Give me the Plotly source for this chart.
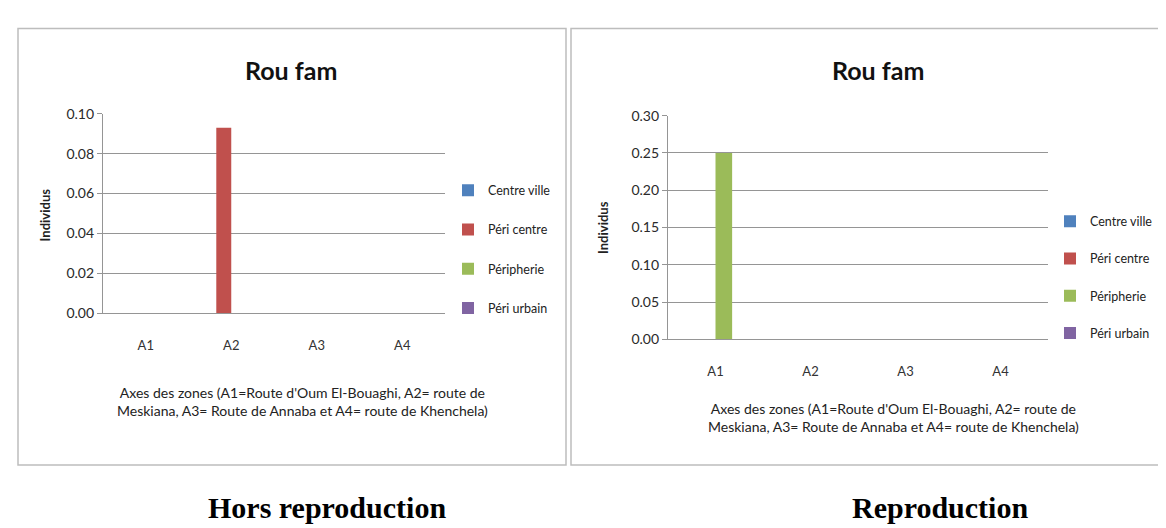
import plotly.graph_objects as go

W, H = 1166, 528

# Données
zones = ["A1", "A2", "A3", "A4"]
series = ["Centre ville", "Péri centre", "Péripherie", "Péri urbain"]
couleurs = ["#4F81BD", "#C0504D", "#9BBB59", "#8064A2"]

# Hors reproduction (valeurs par série, zones A1..A4)
hors_centre_ville = [0, 0, 0, 0]
hors_peri_centre = [0, 0.093, 0, 0]
hors_peripherie = [0, 0, 0, 0]
hors_peri_urbain = [0, 0, 0, 0]

# Reproduction
repro_centre_ville = [0, 0, 0, 0]
repro_peri_centre = [0, 0, 0, 0]
repro_peripherie = [0.25, 0, 0, 0]
repro_peri_urbain = [0, 0, 0, 0]

titre = "Rou fam"
titre_y = "Individus"
titre_x = ("Axes des zones (A1=Route d'Oum El-Bouaghi, A2= route de<br>"
           "Meskiana, A3= Route de Annaba et A4= route de Khenchela)")
legendes = ["Hors reproduction", "Reproduction"]


def px(x):
    return x / W


def py(y):
    return 1 - y / H


FONT = "Lato, Arial, sans-serif"
GRID = "#959595"

fig = go.Figure()

hors = [hors_centre_ville, hors_peri_centre, hors_peripherie, hors_peri_urbain]
repro = [repro_centre_ville, repro_peri_centre, repro_peripherie, repro_peri_urbain]

for i, (nom, vals, c) in enumerate(zip(series, hors, couleurs)):
    fig.add_trace(go.Bar(
        x=zones, y=vals, name=nom, marker=dict(color=c, line_width=0),
        xaxis="x", yaxis="y", legend="legend", legendgroup=f"h{i}"
    ))

for i, (nom, vals, c) in enumerate(zip(series, repro, couleurs)):
    fig.add_trace(go.Bar(
        x=zones, y=vals, name=nom, marker=dict(color=c, line_width=0),
        xaxis="x2", yaxis="y2", legend="legend2", legendgroup=f"r{i}"
    ))

axe_x = dict(showgrid=False, showline=True, linecolor=GRID, linewidth=1.3,
             ticks="", ticklabelstandoff=20,
             tickfont=dict(family=FONT, size=13, color="#333"))
axe_y = dict(showgrid=True, gridcolor=GRID, gridwidth=1.3, zeroline=False,
             showline=True, linecolor=GRID, linewidth=1.3,
             ticks="outside", ticklen=5, tickcolor=GRID, tickformat=".2f",
             tickfont=dict(family=FONT, size=14, color="#2a2a2a"))

legende = dict(xanchor="left", yanchor="top", bgcolor="rgba(0,0,0,0)",
               font=dict(family=FONT, size=12.5, color="#222"), itemwidth=30)

fig.update_layout(
    width=W, height=H, autosize=False,
    margin=dict(l=0, r=0, t=0, b=0),
    paper_bgcolor="white", plot_bgcolor="white",
    barmode="group", bargap=0.3, bargroupgap=0,
    xaxis=dict(axe_x, domain=[px(95), px(437)], anchor="y"),
    yaxis=dict(axe_y, domain=[py(306), py(100)], anchor="x",
               range=[0, 0.1], dtick=0.02),
    xaxis2=dict(axe_x, domain=[px(660), px(1040)], anchor="y2"),
    yaxis2=dict(axe_y, domain=[py(333), py(102)], anchor="x2",
                range=[0, 0.3], dtick=0.05),
    legend=dict(legende, x=px(440), y=py(164), tracegroupgap=20),
    legend2=dict(legende, x=px(1042), y=py(196), tracegroupgap=18),
)

# Cadres des graphiques
for x0, x1 in [(10, 558), (563, 1172)]:
    fig.add_shape(type="rect", xref="paper", yref="paper",
                  x0=px(x0), x1=px(x1), y0=py(463), y1=py(12),
                  line=dict(color="#BDBDBD", width=1.5), layer="below")

# Titres et étiquettes
for cx, ty_ind, cx_ind, xt_x, xt_y in [(283, 205, 37, 294, 397),
                                       (870, 218, 595, 885, 414)]:
    fig.add_annotation(text=f"<b>{titre}</b>", x=px(cx), y=py(55), xref="paper",
                       yref="paper", xanchor="center", yanchor="middle",
                       showarrow=False,
                       font=dict(family=FONT, size=25, color="#111"))
    fig.add_annotation(text=f"<b>{titre_y}</b>", x=px(cx_ind), y=py(ty_ind),
                       xref="paper", yref="paper", textangle=-90, showarrow=False,
                       xanchor="center", yanchor="middle",
                       font=dict(family=FONT, size=13, color="#222"))
    fig.add_annotation(text=titre_x, x=px(xt_x), y=py(xt_y), xref="paper", yref="paper",
                       xanchor="center", yanchor="middle",
                       showarrow=False, align="center",
                       font=dict(family=FONT, size=14, color="#222"))

for cx, txt in zip([319, 932], legendes):
    fig.add_annotation(text=f"<b>{txt}</b>", x=px(cx), y=py(507), xref="paper",
                       yref="paper", xanchor="center", yanchor="middle",
                       showarrow=False,
                       font=dict(family="Liberation Serif, Times New Roman, serif",
                                 size=30, color="black"))

fig.write_html("out.html")
